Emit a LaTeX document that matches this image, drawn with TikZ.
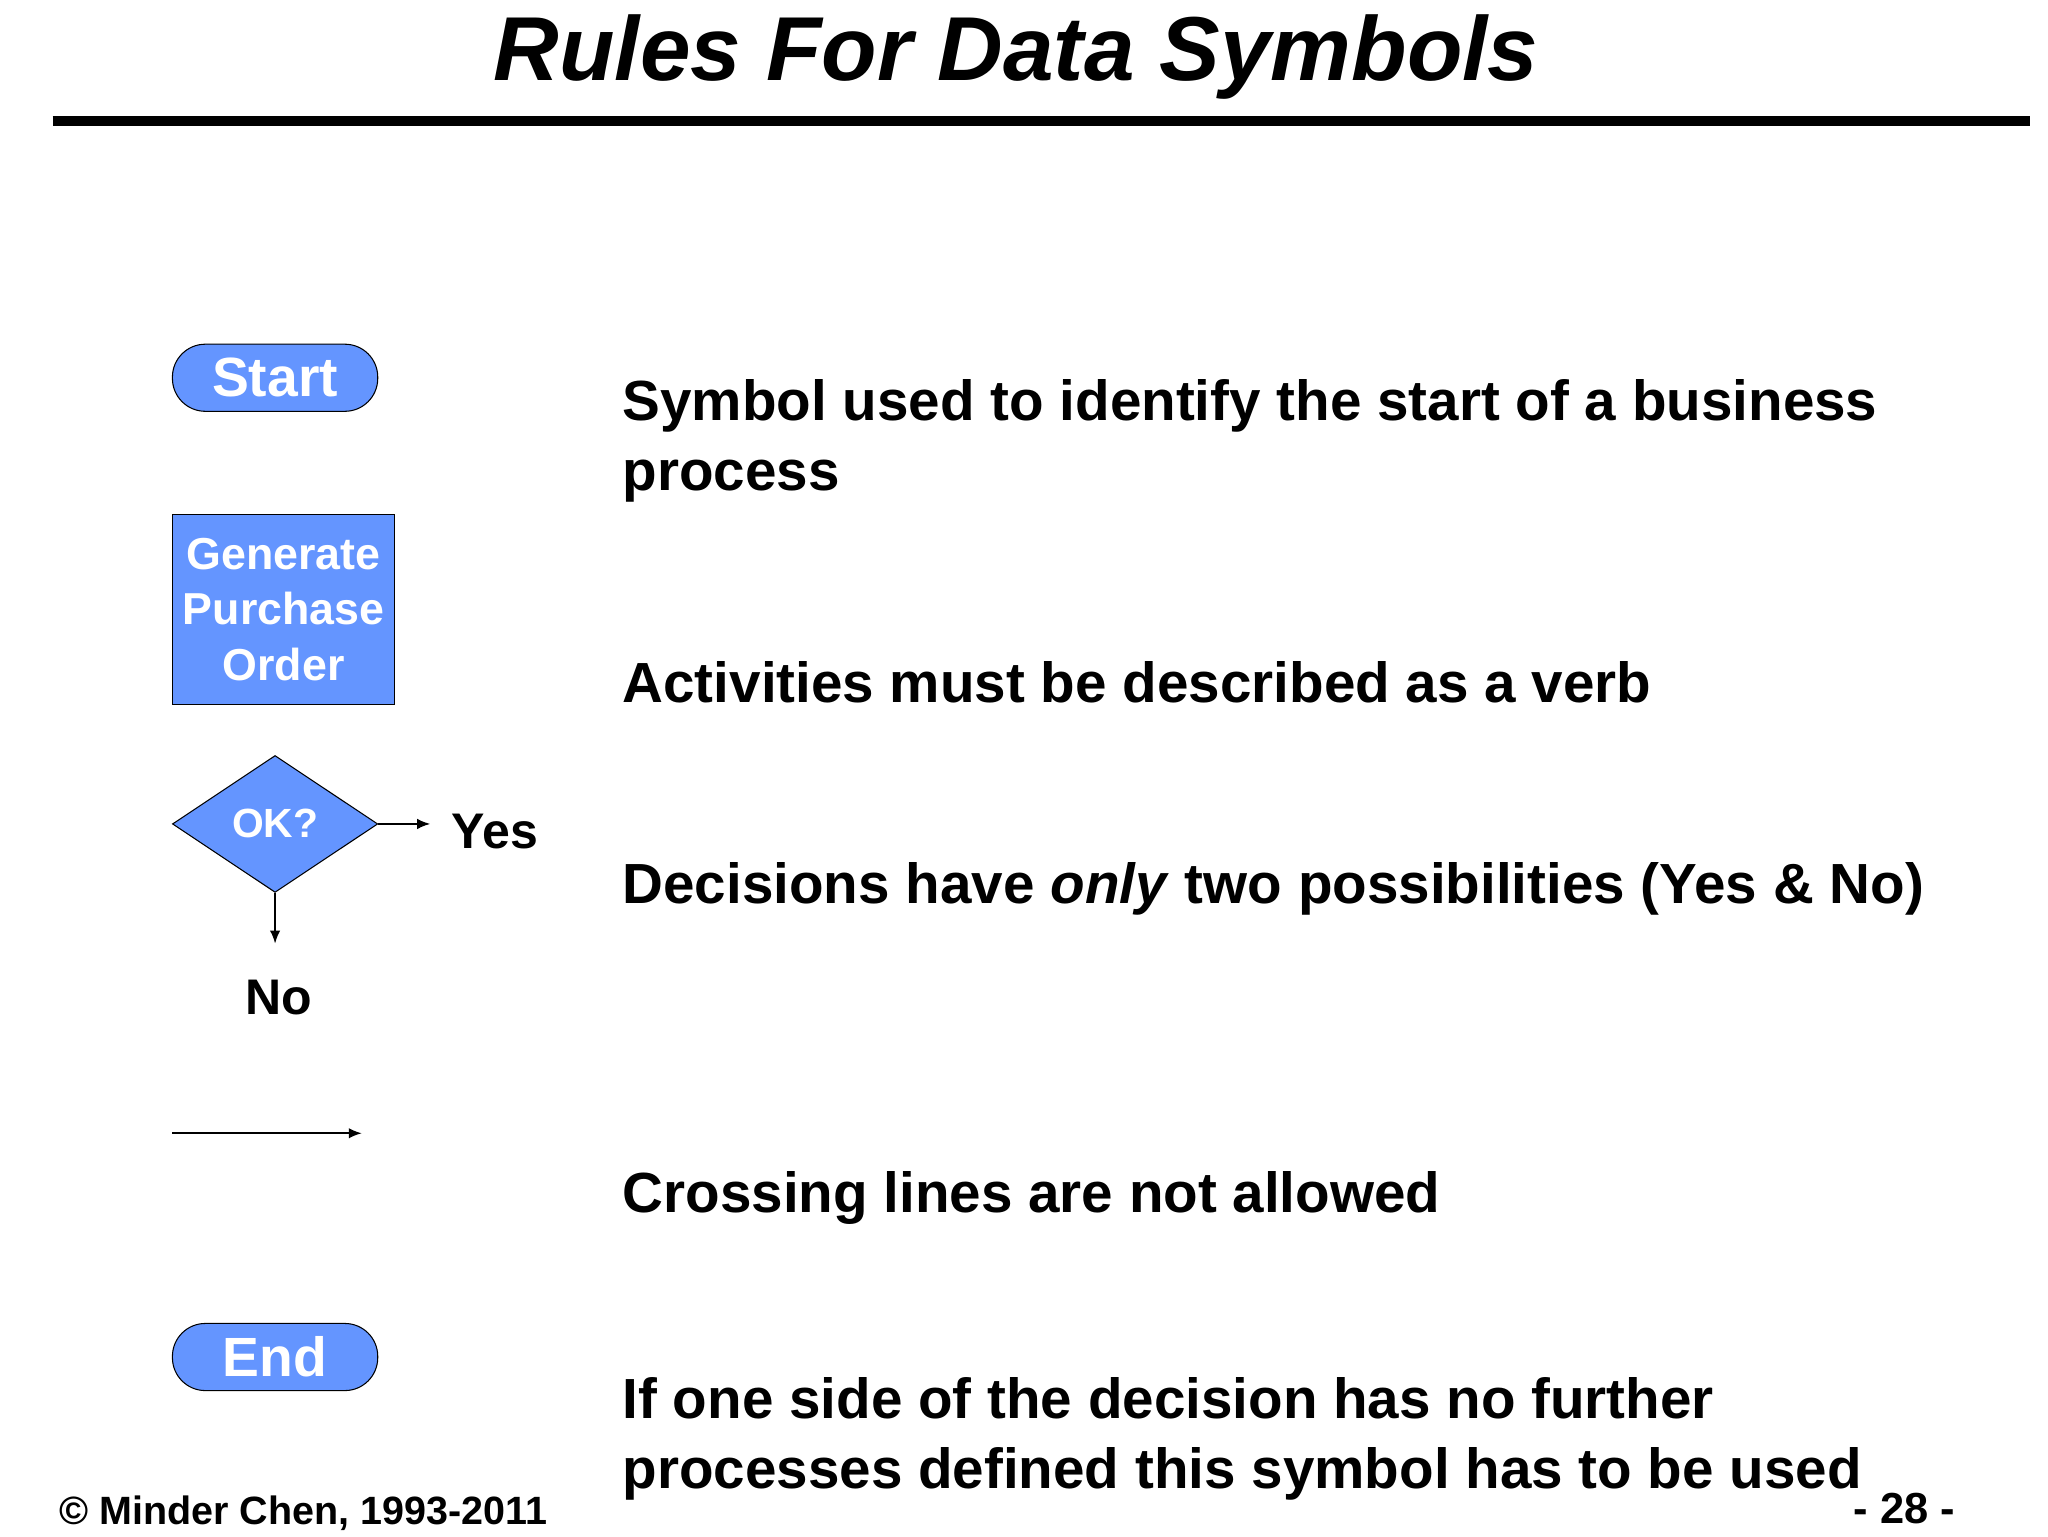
\documentclass[tikz,border=0pt]{standalone}
\usepackage{fontspec}
\setmainfont{Liberation Sans}
\usetikzlibrary{shapes.geometric,arrows.meta}
\definecolor{symblue}{HTML}{6495FF}
\begin{document}
\begin{tikzpicture}[x=0.5pt,y=-0.5pt,
  term/.style={draw=black,fill=symblue,rounded corners=12.5pt,minimum width=78pt,minimum height=25.5pt,text=white,font=\bfseries\fontsize{21}{24}\selectfont,inner sep=0pt},
  desc/.style={anchor=west,font=\bfseries\fontsize{21.5}{26.5}\selectfont,align=left},
  lab/.style={font=\bfseries\fontsize{19}{22}\selectfont},
  arr/.style={-{Latex[length=5pt,width=4pt]},line width=0.8pt}]
\useasboundingbox (0,0) rectangle (1556,1167);
\node (title) at (772,43) {\bfseries\itshape\fontsize{34.5}{38}\selectfont Rules For Data Symbols};
\draw[line width=4pt] (40,92) coordinate (l1) -- (1542,92) coordinate (l2);
\node[term] (start) at (209,287) {Start};
\node[draw=black,fill=symblue,minimum width=84.5pt,minimum height=72pt,text=white,align=center,font=\bfseries\fontsize{17}{21}\selectfont,inner sep=0pt] (act) at (215.5,463) {Generate\\Purchase\\Order};
\node[diamond,draw=black,fill=symblue,aspect=1.5,minimum width=78pt,minimum height=52pt,inner sep=0pt,text=white,font=\bfseries\fontsize{15.5}{18}\selectfont] (dec) at (209,626) {OK?};
\coordinate (yesend) at (327,626);
\coordinate (noend) at (209,717);
\draw[arr] (dec.east) -- (yesend);
\draw[arr] (dec.south) -- (noend);
\node[lab] (yes) at (376,632) {Yes};
\node[lab] (no) at (212,758) {No};
\coordinate (a1) at (131,861); \coordinate (a2) at (275,861);
\draw[arr] (a1) -- (a2);
\node[term] (end) at (209,1031) {End};
\node[desc] (d1) at (466,335) {Symbol used to identify the start of a business\\process};
\node[desc] (d2) at (466,518) {Activities must be described as a verb};
\node[desc] (d3) at (466,675) {Decisions have \textit{only} two possibilities (Yes \& No)};
\node[desc] (d4) at (466,910) {Crossing lines are not allowed};
\node[desc] (d5) at (466,1093) {If one side of the decision has no further\\processes defined this symbol has to be used};
\node[anchor=west,font=\bfseries\fontsize{15}{17}\selectfont] (copy) at (38,1150) {© Minder Chen, 1993-2011};
\node[font=\bfseries\fontsize{16.5}{18}\selectfont] (pg) at (1447,1146) {- 28 -};
\end{tikzpicture}
\end{document}
